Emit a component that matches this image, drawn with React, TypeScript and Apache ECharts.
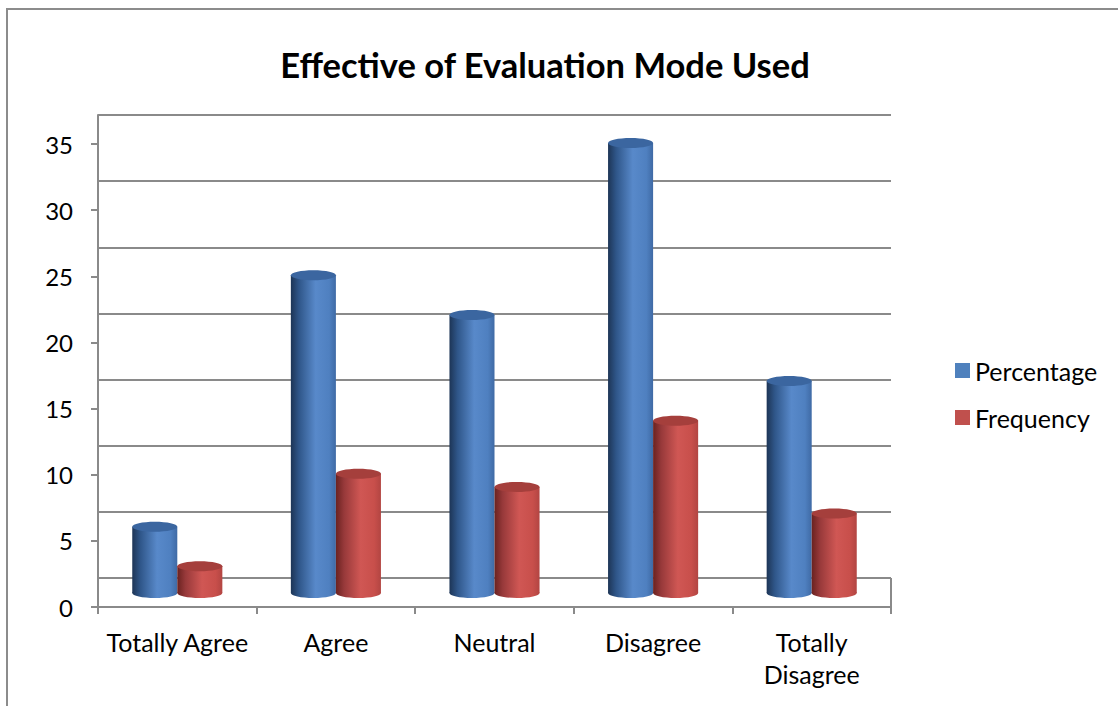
import React, { useEffect, useRef } from "react";
import * as echarts from "echarts";

const categories = ["Totally Agree", "Agree", "Neutral", "Disagree", "Totally\nDisagree"];
const percentage = [6, 25, 22, 35, 17];
const frequency = [3, 10, 9, 14, 7];
const yTicks = { min: 0, max: 35, interval: 5 };

const FONT = "Lato, 'Noto Sans', sans-serif";

function cylinder(side: number, body: any[], topColor: string) {
  return (params: any, api: any) => {
    const idx = api.value(0);
    const v = api.value(1);
    const band = api.size([1, 0])[0];
    const center = api.coord([idx, 0])[0];
    const w = band * 0.284;
    const x0 = side < 0 ? center - w : center;
    const yTop = api.coord([idx, v])[1] - 1;
    const yBase = api.coord([idx, 0])[1] - 14;
    const rx = w / 2;
    const ry = 5;
    return {
      type: "group",
      children: [
        {
          type: "rect",
          shape: { x: x0, y: yTop, width: w, height: yBase - yTop },
          style: { fill: new echarts.graphic.LinearGradient(0, 0, 1, 0, body) },
        },
        {
          type: "ellipse",
          shape: { cx: x0 + rx, cy: yBase, rx, ry },
          style: { fill: new echarts.graphic.LinearGradient(0, 0, 1, 0, body) },
        },
        {
          type: "ellipse",
          shape: { cx: x0 + rx, cy: yTop, rx, ry },
          style: { fill: topColor },
        },
      ],
    };
  };
}

const blueBody = [
  { offset: 0, color: "#1d3556" },
  { offset: 0.18, color: "#2f5689" },
  { offset: 0.55, color: "#5889ca" },
  { offset: 0.85, color: "#4f80c0" },
  { offset: 1, color: "#3f6aa5" },
];
const redBody = [
  { offset: 0, color: "#6a2220" },
  { offset: 0.18, color: "#97393a" },
  { offset: 0.55, color: "#d05754" },
  { offset: 0.85, color: "#c84f4b" },
  { offset: 1, color: "#b24542" },
];

export default function App() {
  const ref = useRef<HTMLDivElement>(null);
  useEffect(() => {
    if (!ref.current) return;
    const chart = echarts.init(ref.current, undefined, { renderer: "svg" });
    const gray = "#8a8a8a";
    chart.setOption({
      animation: false,
      backgroundColor: "#ffffff",
      title: {
        text: "Effective of Evaluation Mode Used",
        left: 540,
        top: 42,
        textAlign: "center",
        textStyle: { fontFamily: FONT, fontSize: 34.5, fontWeight: "bold", color: "#000" },
      },
      legend: {
        orient: "vertical",
        left: 950,
        top: 353,
        itemWidth: 15,
        itemHeight: 15,
        itemGap: 22,
        icon: "rect",
        textStyle: { fontFamily: FONT, fontSize: 25, lineHeight: 25, color: "#000", padding: [0, 0, 0, 0] },
        data: ["Percentage", "Frequency"],
      },
      grid: [
        { left: 98, right: 227, top: 115, bottom: 128 },
        { left: 98, right: 227, top: 144, bottom: 99 },
      ],
      xAxis: [
        { type: "category", gridIndex: 0, data: categories, show: false },
        {
          type: "category",
          gridIndex: 1,
          data: categories,
          axisLine: { show: true, lineStyle: { color: gray, width: 2 } },
          axisTick: { show: true, interval: 0, length: 7, lineStyle: { color: gray, width: 2 } },
          axisLabel: { interval: 0, fontFamily: FONT, fontSize: 25, color: "#000", margin: 19, lineHeight: 32 },
        },
      ],
      yAxis: [
        {
          type: "value",
          gridIndex: 0,
          min: yTicks.min,
          max: yTicks.max,
          interval: yTicks.interval,
          axisLine: { show: true, lineStyle: { color: gray, width: 2 } },
          axisTick: { show: false },
          axisLabel: { show: false },
          splitLine: { show: true, lineStyle: { color: gray, width: 2 } },
        },
        {
          type: "value",
          gridIndex: 1,
          min: yTicks.min,
          max: yTicks.max,
          interval: yTicks.interval,
          axisLine: { show: true, lineStyle: { color: gray, width: 2 } },
          axisTick: { show: true, length: 7, lineStyle: { color: gray, width: 2 } },
          axisLabel: { fontFamily: FONT, fontSize: 24, color: "#000", margin: 25 },
          splitLine: { show: false },
        },
      ],
      graphic: [
        {
          type: "rect",
          shape: { x: 7, y: 9, width: 1140, height: 720 },
          style: { fill: "none", stroke: "#8c8c8c", lineWidth: 2 },
          silent: true,
        },
        {
          type: "line",
          shape: { x1: 891, y1: 578, x2: 891, y2: 614 },
          style: { stroke: gray, lineWidth: 2 },
          silent: true,
        },
      ],
      series: [
        {
          name: "Percentage",
          type: "custom",
          xAxisIndex: 1,
          yAxisIndex: 1,
          itemStyle: { color: "#4f81bd" },
          encode: { x: 0, y: 1 },
          data: percentage.map((v, i) => [i, v]),
          renderItem: cylinder(-1, blueBody, "#3b66a0"),
        },
        {
          name: "Frequency",
          type: "custom",
          xAxisIndex: 1,
          yAxisIndex: 1,
          itemStyle: { color: "#c0504d" },
          encode: { x: 0, y: 1 },
          data: frequency.map((v, i) => [i, v]),
          renderItem: cylinder(1, redBody, "#a53f3c"),
        },
      ],
    });
    return () => chart.dispose();
  }, []);
  return <div ref={ref} style={{ position: "fixed", left: 0, top: 0, width: 1118, height: 706 }} />;
}
